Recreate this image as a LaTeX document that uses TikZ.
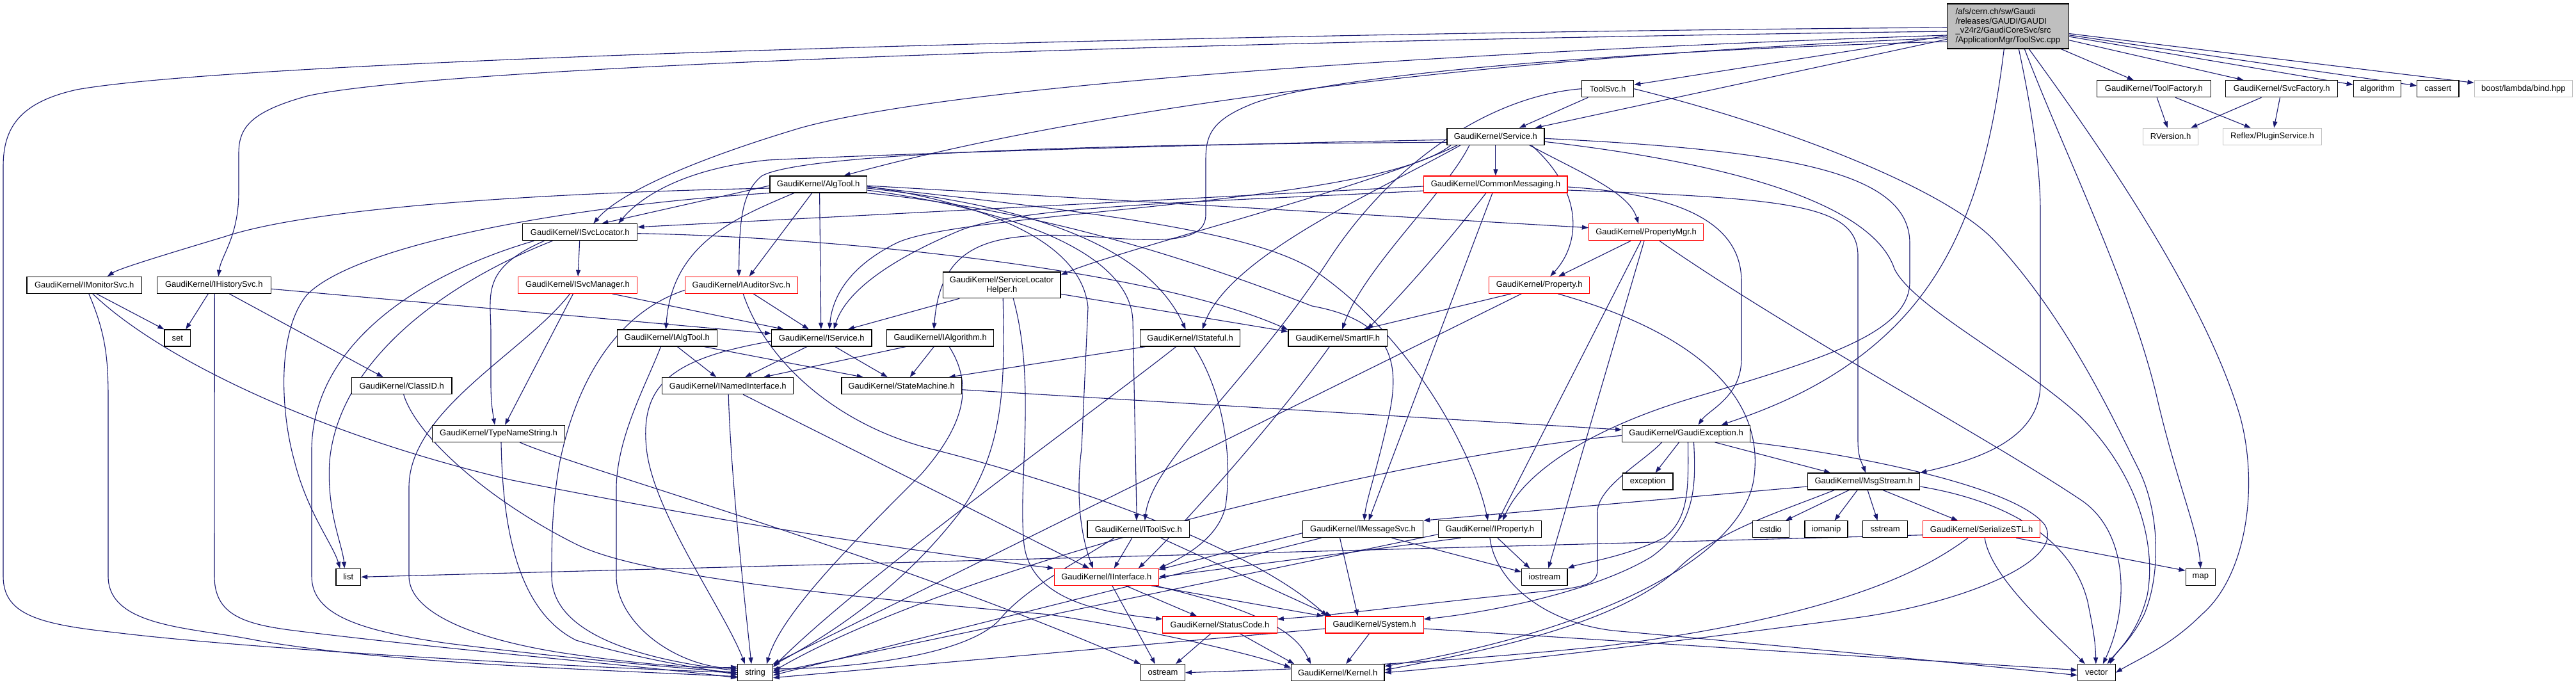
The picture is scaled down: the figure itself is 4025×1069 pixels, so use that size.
\documentclass[tikz,border=0pt]{standalone}
\usepackage{fontspec}
\newfontfamily\nf{Liberation Sans}
\usetikzlibrary{arrows.meta}
\definecolor{edgec}{HTML}{191970}
\definecolor{graybd}{HTML}{BFBFBF}
\pgfdeclarelayer{bg}
\pgfsetlayers{bg,main}
\tikzset{
 nb/.style={draw=black, line width=1.2pt, fill=white, inner sep=0pt, font=\nf\fontsize{13}{14.7}\selectfont, align=center},
 nr/.style={nb, draw=red},
 ng/.style={nb, draw=graybd},
 nroot/.style={nb, fill=graybd, align=left},
 e/.style={draw=edgec, line width=1.1pt, -{Triangle[length=10pt,width=7pt]}},
}
\newcommand\gnode[7]{\node[#1,minimum width=#5pt,minimum height=#6pt] (#2) at (#3,#4) {#7};}
\begin{document}
\begin{tikzpicture}[x=1pt,y=-1pt]
\useasboundingbox (0,0) rectangle (4025,1069);
% ---------------- nodes
\gnode{nroot}{root}{3137.3}{41}{189.6}{70}{/afs/cern.ch/sw/Gaudi\\/releases/GAUDI/GAUDI\\\_v24r2/GaudiCoreSvc/src\\/ApplicationMgr/ToolSvc.cpp}
\gnode{nb}{toolfac}{3365.4}{138.7}{177.8}{26}{GaudiKernel/ToolFactory.h}
\gnode{nb}{svcfac}{3565.1}{138.7}{174.6}{26}{GaudiKernel/SvcFactory.h}
\gnode{nb}{algorithm}{3714.5}{138.7}{74.5}{26}{algorithm}
\gnode{nb}{cassert}{3809.3}{138.7}{65.4}{26}{cassert}
\gnode{ng}{boost}{3942.9}{138.7}{153.6}{26}{boost/lambda/bind.hpp}
\gnode{ng}{rversion}{3391.6}{213.3}{86.3}{26}{RVersion.h}
\gnode{ng}{plugin}{3550.4}{213.3}{154.2}{26}{Reflex/PluginService.h}
\gnode{nb}{toolsvch}{2512.1}{138.7}{81.2}{26}{ToolSvc.h}
\gnode{nb}{service}{2336.9}{213.3}{152}{26}{GaudiKernel/Service.h}
\gnode{nr}{commsg}{2336.9}{288}{224.2}{26}{GaudiKernel/CommonMessaging.h}
\gnode{nr}{propmgr}{2572}{362.7}{179.1}{26}{GaudiKernel/PropertyMgr.h}
\gnode{nb}{algtool}{1278.6}{288}{151.4}{26}{GaudiKernel/AlgTool.h}
\gnode{nb}{isvcloc}{906.3}{362.7}{179.1}{26}{GaudiKernel/ISvcLocator.h}
\gnode{nb}{imonitor}{131.8}{445.3}{179.7}{26}{GaudiKernel/IMonitorSvc.h}
\gnode{nb}{ihistory}{334.3}{445.3}{177.8}{26}{GaudiKernel/IHistorySvc.h}
\gnode{nr}{isvcman}{902.5}{445.3}{185.5}{26}{GaudiKernel/ISvcManager.h}
\gnode{nb}{set}{277.3}{528}{40.6}{26}{set}
\gnode{nb}{classid}{627.7}{602.7}{156.6}{26}{GaudiKernel/ClassID.h}
\gnode{nb}{typename}{779}{677.3}{206.7}{26}{GaudiKernel/TypeNameString.h}
\gnode{nb}{ialgtool}{1042.4}{528}{156.1}{26}{GaudiKernel/IAlgTool.h}
\gnode{nr}{iauditor}{1158.2}{445.3}{175.9}{26}{GaudiKernel/IAuditorSvc.h}
\gnode{nb}{slhelper}{1565.2}{445.3}{183.6}{40.7}{GaudiKernel/ServiceLocator\\Helper.h}
\gnode{nb}{iservice}{1283.8}{528}{156.5}{26}{GaudiKernel/IService.h}
\gnode{nb}{ialgorithm}{1469.2}{528}{166.9}{26}{GaudiKernel/IAlgorithm.h}
\gnode{nb}{istateful}{1859.6}{528}{156.5}{26}{GaudiKernel/IStateful.h}
\gnode{nb}{inamed}{1137.2}{602.7}{204.8}{26}{GaudiKernel/INamedInterface.h}
\gnode{nb}{statemach}{1408.7}{602.7}{187.4}{26}{GaudiKernel/StateMachine.h}
\gnode{nb}{smartif}{2090.2}{528}{154.6}{26}{GaudiKernel/SmartIF.h}
\gnode{nr}{property}{2405.2}{445.3}{157.1}{26}{GaudiKernel/Property.h}
\gnode{nb}{gexc}{2634.5}{677.3}{199.7}{26}{GaudiKernel/GaudiException.h}
\gnode{nb}{exception}{2574.6}{752}{78.6}{26}{exception}
\gnode{nb}{msgstream}{2912.1}{752}{175.2}{26}{GaudiKernel/MsgStream.h}
\gnode{nb}{imsgsvc}{2129.5}{826.7}{188.1}{26}{GaudiKernel/IMessageSvc.h}
\gnode{nb}{iproperty}{2327.9}{826.7}{161.1}{26}{GaudiKernel/IProperty.h}
\gnode{nb}{cstdio}{2766.9}{826.7}{57.3}{26}{cstdio}
\gnode{nb}{iomanip}{2853.5}{826.7}{67}{26}{iomanip}
\gnode{nb}{sstream}{2945.6}{826.7}{69.6}{26}{sstream}
\gnode{nr}{serial}{3096.1}{826.7}{183}{26}{GaudiKernel/SerializeSTL.h}
\gnode{nb}{iostream}{2413.3}{901.3}{71.5}{26}{iostream}
\gnode{nr}{system}{2147.6}{976}{153.3}{26}{GaudiKernel/System.h}
\gnode{nb}{kernel}{2090.2}{1050.7}{145.6}{26}{GaudiKernel/Kernel.h}
\gnode{nb}{itoolsvc}{1778.8}{826.7}{159.7}{26}{GaudiKernel/IToolSvc.h}
\gnode{nr}{iinterface}{1728.8}{901.3}{163}{26}{GaudiKernel/IInterface.h}
\gnode{nr}{statuscode}{1906}{976}{178.5}{26}{GaudiKernel/StatusCode.h}
\gnode{nb}{string}{1180}{1050.7}{54.7}{26}{string}
\gnode{nb}{ostream}{1817}{1050.7}{68.9}{26}{ostream}
\gnode{nb}{list}{544.3}{901.3}{38.6}{26}{list}
\gnode{nb}{map}{3438.3}{901.3}{46.4}{26}{map}
\gnode{nb}{vector}{3275.8}{1050.7}{58.9}{26}{vector}
% ---------------- edges
\begin{pgfonlayer}{bg}
\fill[white] (0,0) rectangle (4025,1069);
% root
\draw[e] (root) -- (toolsvch);
\draw[e] (root) -- ([xshift=62pt]service.north);
\draw[e] (root) -- (toolfac);
\draw[e] (root) -- (svcfac);
\draw[e] (root) -- (algorithm);
\draw[e] (root) -- (cassert);
\draw[e] (root) -- (boost);
\draw[e] ([yshift=-2pt]root.west) .. controls (2000,50) and (400,90) .. (120,140) .. controls (30,160) and (5,200) .. (5,260) -- (5,900) .. controls (5,960) and (60,975) .. (180,988) .. controls (400,1015) and (900,1042) .. (string.west);
\draw[e] ([yshift=-8pt]root.west) .. controls (2000,62) and (700,100) .. (480,150) .. controls (390,175) and (373,200) .. (373,240) -- (373,300) .. controls (373,370) and (345,400) .. ([xshift=7pt]ihistory.north);
\draw[e] ([yshift=-14pt]root.west) .. controls (2300,80) and (1500,130) .. (1250,200) .. controls (1050,260) and (960,310) .. ([xshift=21pt]isvcloc.north);
\draw[e] ([yshift=-18pt]root.west) .. controls (2300,90) and (1700,170) .. ([xshift=40pt]algtool.north);
\draw[e] ([yshift=-24pt]root.west) .. controls (2500,80) and (2050,120) .. (1950,165) .. controls (1890,190) and (1884,215) .. (1884,250) -- (1884,335) .. controls (1884,375) and (1830,378) .. (1740,372) .. controls (1560,358) and (1470,370) .. ([xshift=-10pt]ialgorithm.north);
\draw[e] ([xshift=-6pt]root.south) .. controls (3110,250) and (3070,400) .. (2960,510) .. controls (2870,600) and (2760,640) .. ([xshift=55pt]gexc.north);
\draw[e] ([xshift=17pt]root.south) .. controls (3170,150) and (3188,250) .. (3188,330) -- (3188,600) .. controls (3188,690) and (3080,720) .. (msgstream.north east);
\draw[e] ([xshift=26pt]root.south) .. controls (3230,250) and (3330,450) .. (3370,620) .. controls (3400,750) and (3435,830) .. (map.north);
\draw[e] ([xshift=33pt]root.south) .. controls (3260,200) and (3440,450) .. (3500,650) .. controls (3530,760) and (3510,900) .. (3440,960) .. controls (3390,1010) and (3340,1030) .. (vector.east);
% factories
\draw[e] (toolfac) -- (rversion);
\draw[e] (toolfac) -- (plugin);
\draw[e] (svcfac) -- (rversion);
\draw[e] (svcfac) -- (plugin);
% ToolSvc.h
\draw[e] (toolsvch) -- ([xshift=37pt]service.north);
\draw[e] (toolsvch.west) .. controls (2330,150) and (2180,250) .. (2080,400) .. controls (1950,600) and (1800,720) .. ([xshift=10pt]itoolsvc.north);
\draw[e] (toolsvch.east) .. controls (2800,200) and (3050,300) .. (3120,380) .. controls (3230,500) and (3300,650) .. (3340,730) .. controls (3376,800) and (3376,900) .. (3350,960) .. controls (3330,1000) and (3305,1020) .. ([xshift=21pt]vector.north);
% Service.h
\draw[e] (service) -- (commsg);
\draw[e] ([xshift=53pt]service.south) .. controls (2470,270) and (2545,300) .. ([xshift=-12pt]propmgr.north);
\draw[e] ([xshift=56pt]service.south) .. controls (2475,300) and (2470,380) .. ([xshift=17pt]property.north);
\draw[e] ([yshift=-5pt]service.west) .. controls (1900,225) and (1400,240) .. (1200,250) .. controls (1050,265) and (990,320) .. ([xshift=60pt]isvcloc.north);
\draw[e] ([yshift=-9pt]service.west) .. controls (1700,225) and (1250,240) .. (1190,275) .. controls (1160,300) and (1155,340) .. ([xshift=-3.6pt]iauditor.north);
\draw[e] ([xshift=-70pt]service.south) .. controls (2150,320) and (1500,330) .. (1400,380) .. controls (1320,420) and (1300,470) .. ([xshift=12pt]iservice.north);
\draw[e] ([xshift=-55pt]service.south) .. controls (2150,300) and (1920,400) .. ([xshift=19pt]istateful.north);
\draw[e] ([xshift=-60pt]service.south) .. controls (2150,290) and (1750,390) .. ([yshift=-5pt]slhelper.north east);
\draw[e] ([xshift=-41pt]service.south) .. controls (2260,300) and (2130,420) .. ([xshift=7pt]smartif.north);
\draw[e] ([yshift=-3pt]service.east) .. controls (2800,235) and (2984,270) .. (2984,380) -- (2984,440) .. controls (2984,520) and (2850,560) .. (2650,620) .. controls (2480,670) and (2380,740) .. ([xshift=20pt]iproperty.north);
\draw[e] ([yshift=-8pt]service.east) .. controls (2750,260) and (2930,330) .. (2960,420) .. controls (2990,480) and (3150,560) .. (3250,650) .. controls (3340,740) and (3370,850) .. (3355,930) .. controls (3340,990) and (3310,1015) .. ([xshift=17pt]vector.north);
% CommonMessaging
\draw[e] ([yshift=-3pt]commsg.west) -- ([yshift=8pt]isvcloc.east);
\draw[e] ([yshift=-10pt]commsg.west) .. controls (1900,315) and (1600,320) .. (1500,360) .. controls (1380,410) and (1320,460) .. ([xshift=19pt]iservice.north);
\draw[e] ([xshift=-15pt]commsg.south) .. controls (2260,380) and (2200,450) .. ([xshift=46pt]smartif.north);
\draw[e] ([xshift=-5pt]commsg.south) -- ([xshift=9pt]imsgsvc.north);
\draw[e] ([yshift=-4pt]commsg.east) .. controls (2650,305) and (2721,360) .. (2721,440) -- (2721,560) .. controls (2721,620) and (2670,640) .. ([xshift=19pt]gexc.north);
\draw[e] ([yshift=-9pt]commsg.east) .. controls (2800,310) and (2903,320) .. (2903,400) -- (2903,690) .. controls (2903,715) and (2910,725) .. ([xshift=3pt]msgstream.north);
% PropertyMgr
\draw[e] ([xshift=-24pt]propmgr.south) -- ([xshift=30pt]property.north);
\draw[e] ([xshift=-8pt]propmgr.south) -- ([xshift=13pt]iproperty.north);
\draw[e] ([xshift=-3pt]propmgr.south) -- ([xshift=6pt]iostream.north);
\draw[e] ([xshift=21pt]propmgr.south) .. controls (2800,520) and (3100,680) .. (3250,780) .. controls (3327,830) and (3327,950) .. ([xshift=10pt]vector.north);
% Property
\draw[e] ([xshift=-44pt]property.south) -- ([xshift=40pt]smartif.north);
\draw[e] ([xshift=-28pt]property.south) -- (string.north east);
\draw[e] ([xshift=29pt]property.south) .. controls (2650,520) and (2760,620) .. (2740,750) .. controls (2720,870) and (2500,985) .. ([yshift=10pt]kernel.east);
% ServiceLocatorHelper
\draw[e] ([xshift=-66pt]slhelper.south) -- ([xshift=41pt]iservice.north);
\draw[e] ([yshift=-14pt]slhelper.east) -- ([yshift=10pt]smartif.west);
\draw[e] ([xshift=2pt]slhelper.south) .. controls (1570,600) and (1570,700) .. (1500,800) .. controls (1400,930) and (1280,1000) .. ([yshift=-2pt]string.north east);
\draw[e] ([xshift=18pt]slhelper.south) .. controls (1620,600) and (1590,750) .. (1600,850) .. controls (1610,930) and (1700,955) .. ([yshift=9pt]statuscode.west);
% IAuditorSvc
\draw[e] ([xshift=19pt]iauditor.south) -- ([xshift=-20pt]iservice.north);
\draw[e] ([yshift=-8pt]iauditor.west) .. controls (960,490) and (900,600) .. (875,720) .. controls (862,790) and (862,850) .. (862,900) .. controls (862,990) and (1000,1030) .. ([yshift=3pt]string.west);
\draw[e] ([xshift=3pt]iauditor.south) .. controls (1195,560) and (1300,660) .. (1450,700) .. controls (1650,750) and (1950,850) .. ([xshift=-74pt]system.north);
% IService / IAlgTool / IAlgorithm / IStateful
\draw[e] ([xshift=-23pt]iservice.south) -- ([xshift=27pt]inamed.north);
\draw[e] ([xshift=21pt]iservice.south) -- ([xshift=-22pt]statemach.north);
\draw[e] ([yshift=-5pt]iservice.west) .. controls (1050,560) and (1000,600) .. (1010,700) .. controls (1020,800) and (1130,950) .. ([xshift=-16pt]string.north);
\draw[e] ([xshift=-54pt]ialgorithm.south) -- ([xshift=56pt]inamed.north);
\draw[e] ([xshift=-10pt]ialgorithm.south) -- ([xshift=13pt]statemach.north);
\draw[e] ([xshift=14pt]ialgorithm.south) .. controls (1520,600) and (1510,660) .. (1440,740) .. controls (1330,850) and (1220,960) .. ([xshift=18pt]string.north);
\draw[e] ([xshift=-10pt]ialgtool.south) .. controls (1010,600) and (965,680) .. (963,760) -- (963,900) .. controls (963,970) and (1050,1040) .. ([yshift=6pt]string.west);
\draw[e] ([xshift=16pt]ialgtool.south) -- ([xshift=-18pt]inamed.north);
\draw[e] ([xshift=58pt]ialgtool.south) -- ([xshift=-60pt]statemach.north);
\draw[e] ([xshift=-70pt]istateful.south) -- ([xshift=74pt]statemach.north);
\draw[e] ([xshift=-22pt]istateful.south) .. controls (1700,650) and (1350,900) .. ([yshift=-5pt]string.north east);
\draw[e] ([xshift=6pt]istateful.south) .. controls (1915,620) and (1925,720) .. (1915,790) .. controls (1905,840) and (1850,870) .. (iinterface.north east);
% INamedInterface / StateMachine
\draw[e] ([xshift=1pt]inamed.south) .. controls (1142,750) and (1165,950) .. ([xshift=-6pt]string.north);
\draw[e] ([xshift=24pt]inamed.south) -- ([xshift=-27pt]iinterface.north);
\draw[e] ([yshift=-6pt]statemach.east) -- ([yshift=6pt]gexc.west);
% SmartIF
\draw[e] ([xshift=-13pt]smartif.south) .. controls (2000,650) and (1850,820) .. ([xshift=50pt]iinterface.north);
% GaudiException
\draw[e] ([xshift=-11pt]gexc.south) -- ([xshift=12pt]exception.north);
\draw[e] ([xshift=45pt]gexc.south) -- ([xshift=-52pt]msgstream.north);
\draw[e] ([xshift=3pt]gexc.south) .. controls (2638,760) and (2640,810) .. (2600,840) .. controls (2540,870) and (2470,880) .. (iostream.north east);
\draw[e] ([xshift=-38pt]gexc.south) .. controls (2570,720) and (2496,760) .. (2496,800) -- (2496,890) .. controls (2496,915) and (2470,918) .. (2400,925) .. controls (2200,945) and (2100,960) .. ([yshift=9pt]statuscode.east);
\draw[e] ([xshift=12pt]gexc.south) .. controls (2650,760) and (2650,820) .. (2580,870) .. controls (2480,930) and (2300,960) .. ([yshift=9pt]system.east);
\draw[e] (gexc.south east) .. controls (2900,710) and (3150,760) .. (3195,820) .. controls (3230,880) and (3050,945) .. (2900,965) .. controls (2600,1005) and (2300,1040) .. (kernel.east);
\draw[e] ([yshift=-3pt]gexc.west) .. controls (2200,710) and (1500,880) .. ([yshift=2pt]string.east);
% MsgStream
\draw[e] ([yshift=-8pt]msgstream.west) -- (imsgsvc.north east);
\draw[e] ([xshift=-23pt]msgstream.south) -- ([xshift=23pt]cstdio.north);
\draw[e] ([xshift=-10pt]msgstream.south) -- ([xshift=13pt]iomanip.north);
\draw[e] ([xshift=6pt]msgstream.south) -- ([xshift=-12pt]sstream.north);
\draw[e] ([xshift=30pt]msgstream.south) -- ([xshift=-37pt]serial.north);
\draw[e] ([yshift=-8pt]msgstream.east) .. controls (3150,785) and (3240,850) .. (3262,940) .. controls (3270,980) and (3274,1000) .. ([xshift=-1pt]vector.north);
\draw[e] ([xshift=-46pt]msgstream.south) .. controls (2780,800) and (2680,830) .. (2620,890) .. controls (2520,980) and (2300,1020) .. ([yshift=4pt]kernel.east);
% SerializeSTL
\draw[e] ([yshift=-9pt]serial.west) -- (list.east);
\draw[e] ([xshift=-21pt]serial.south) .. controls (3020,880) and (2900,960) .. (2500,1010) .. controls (2200,1040) and (2000,1046) .. (ostream.east);
\draw[e] ([xshift=5pt]serial.south) .. controls (3110,900) and (3200,980) .. ([xshift=-18pt]vector.north);
\draw[e] ([xshift=54pt]serial.south) -- ([yshift=10pt]map.west);
% IMessageSvc
\draw[e] ([xshift=-65pt]imsgsvc.south) -- ([yshift=-4pt]string.east);
\draw[e] ([xshift=-36pt]imsgsvc.south) -- ([xshift=-26pt]system.north);
\draw[e] ([yshift=-6pt]imsgsvc.west) -- ([yshift=-2pt]iinterface.north east);
\draw[e] ([xshift=45pt]imsgsvc.south) -- ([yshift=8pt]iostream.west);
% IProperty
\draw[e] ([xshift=-45pt]iproperty.south) -- (iinterface.east);
\draw[e] ([yshift=-8pt]iproperty.west) -- ([yshift=0pt]string.east);
\draw[e] ([xshift=12pt]iproperty.south) -- ([xshift=-23pt]iostream.north);
\draw[e] (iproperty.south) .. controls (2335,900) and (2400,970) .. (2520,985) .. controls (2800,1010) and (3100,1040) .. ([yshift=-4pt]vector.west);
% IToolSvc
\draw[e] ([xshift=-10pt]itoolsvc.south) -- ([xshift=12pt]iinterface.north);
\draw[e] ([xshift=-38pt]itoolsvc.south) .. controls (1680,880) and (1600,920) .. (1560,970) .. controls (1500,1030) and (1300,1045) .. ([yshift=6pt]string.east);
\draw[e] ([xshift=35pt]itoolsvc.south) -- ([xshift=-67pt]system.north);
% IInterface
\draw[e] ([xshift=9pt]iinterface.south) -- ([xshift=-12pt]ostream.north);
\draw[e] ([xshift=30pt]iinterface.south) -- ([xshift=-36pt]statuscode.north);
\draw[e] ([xshift=70pt]iinterface.south) -- ([xshift=-80pt]system.north);
\draw[e] ([xshift=76pt]iinterface.south) .. controls (2000,960) and (2030,1000) .. ([xshift=-42pt]kernel.north);
% StatusCode / System
\draw[e] ([xshift=-14pt]statuscode.south) -- ([xshift=20pt]ostream.north);
\draw[e] ([xshift=31pt]statuscode.south) -- ([xshift=-68pt]kernel.north);
\draw[e] ([xshift=-8pt]system.south) -- ([xshift=13pt]kernel.north);
\draw[e] ([yshift=-6pt]system.west) -- ([yshift=-8pt]string.east);
\draw[e] ([yshift=-6pt]system.east) -- ([yshift=4pt]vector.west);
% TypeNameString / ClassID
\draw[e] ([xshift=4pt]typename.south) .. controls (785,800) and (800,950) .. (900,1000) .. controls (1000,1030) and (1100,1045) .. ([yshift=-3pt]string.west);
\draw[e] ([xshift=33pt]typename.south) .. controls (900,730) and (1400,870) .. (ostream.north west);
\draw[e] ([xshift=3pt]classid.south) .. controls (650,680) and (760,780) .. (900,850) .. controls (1000,900) and (1300,930) .. (1640,960) .. controls (1800,985) and (1950,1020) .. ([yshift=8pt]kernel.west);
% IMonitorSvc / IHistorySvc
\draw[e] ([xshift=19pt]imonitor.south) -- (set.north west);
\draw[e] ([xshift=7pt]imonitor.south) .. controls (165,520) and (169,560) .. (169,620) -- (169,900) .. controls (169,980) and (300,980) .. (400,1000) .. controls (600,1035) and (900,1045) .. ([yshift=-6pt]string.west);
\draw[e] ([xshift=13pt]imonitor.south) .. controls (250,560) and (500,680) .. (800,750) .. controls (1200,830) and (1500,870) .. (iinterface.north west);
\draw[e] ([xshift=-9pt]ihistory.south) -- ([xshift=13pt]set.north);
\draw[e] ([xshift=1pt]ihistory.south) -- (335,900) .. controls (335,960) and (380,975) .. (460,985) .. controls (700,1015) and (1000,1040) .. ([yshift=-8pt]string.west);
\draw[e] ([xshift=24pt]ihistory.south) -- ([xshift=-29pt]classid.north);
\draw[e] ([yshift=-6pt]ihistory.east) -- ([yshift=7pt]iservice.west);
% ISvcLocator
\draw[e] (isvcloc) -- (isvcman);
\draw[e] ([xshift=-56pt]isvcloc.south) .. controls (750,420) and (767,460) .. (767,520) -- (767,600) .. controls (767,630) and (770,645) .. ([xshift=-6pt]typename.north);
\draw[e] ([xshift=-72pt]isvcloc.south) .. controls (650,430) and (490,540) .. (487,700) -- (487,900) .. controls (487,960) and (560,985) .. (700,1005) .. controls (900,1030) and (1050,1042) .. ([yshift=0pt]string.west);
\draw[e] ([xshift=-43pt]isvcloc.south) .. controls (700,440) and (530,560) .. (515,720) .. controls (510,800) and (535,850) .. ([xshift=-6pt]list.north);
\draw[e] ([yshift=-2pt]isvcloc.east) .. controls (1300,370) and (1800,420) .. ([yshift=13pt]smartif.west);
% ISvcManager
\draw[e] ([xshift=-7pt]isvcman.south) -- ([xshift=10pt]typename.north);
\draw[e] ([xshift=-12pt]isvcman.south) .. controls (820,550) and (640,640) .. (639,760) -- (639,900) .. controls (639,960) and (750,1000) .. (880,1020) .. controls (1000,1038) and (1100,1045) .. ([yshift=9pt]string.west);
\draw[e] ([xshift=54pt]isvcman.south) -- ([xshift=-59pt]iservice.north);
% AlgTool
\draw[e] ([yshift=-2pt]algtool.west) -- ([xshift=34pt]isvcloc.north);
\draw[e] ([yshift=-6pt]algtool.west) .. controls (900,300) and (500,320) .. (350,370) .. controls (250,400) and (185,420) .. ([xshift=36pt]imonitor.north);
\draw[e] (algtool.south west) .. controls (900,320) and (560,380) .. (480,460) .. controls (430,520) and (440,650) .. (460,720) .. controls (480,800) and (520,850) .. ([xshift=-13pt]list.north);
\draw[e] ([xshift=-38pt]algtool.south) .. controls (1150,340) and (1050,380) .. ([xshift=-2pt]ialgtool.north);
\draw[e] ([xshift=-10pt]algtool.south) -- ([xshift=12.5pt]iauditor.north);
\draw[e] ([xshift=2pt]algtool.south) -- ([xshift=-1pt]iservice.north);
\draw[e] ([yshift=-2pt]algtool.east) -- ([yshift=7pt]propmgr.west);
\draw[e] ([yshift=-3pt]algtool.east) .. controls (1550,320) and (1690,380) .. (1700,480) -- (1690,700) .. controls (1680,780) and (1690,840) .. ([xshift=-21pt]iinterface.north);
\draw[e] ([yshift=-4pt]algtool.east) .. controls (1700,330) and (1950,360) .. (2050,420) .. controls (2200,520) and (2300,700) .. ([xshift=-3pt]iproperty.north);
\draw[e] ([yshift=-6pt]algtool.east) .. controls (1600,320) and (1790,380) .. ([xshift=-7pt]istateful.north);
\draw[e] ([yshift=-9pt]algtool.east) .. controls (1600,330) and (1765,400) .. (1770,500) -- (1774,700) .. controls (1775,760) and (1776,790) .. ([xshift=-3pt]itoolsvc.north);
\draw[e] (algtool.south east) .. controls (1650,330) and (1900,420) .. (2050,478) .. controls (2170,500) and (2190,560) .. (2170,650) .. controls (2150,740) and (2135,780) .. ([xshift=2pt]imsgsvc.north);
\end{pgfonlayer}
\end{tikzpicture}
\end{document}
